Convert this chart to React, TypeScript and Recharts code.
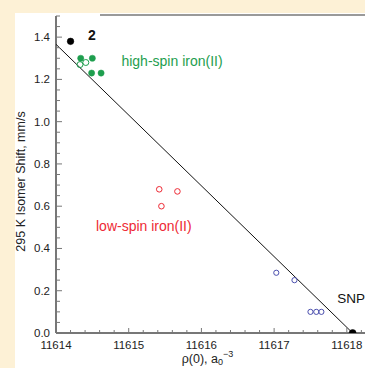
import React from 'react';
import { ScatterChart, Scatter, XAxis, YAxis, ReferenceDot, Label } from 'recharts';

const xMajor = [11614, 11615, 11616, 11617, 11618];
const yMajor = [0, 0.2, 0.4, 0.6, 0.8, 1.0, 1.2, 1.4];

const compound2 = [{ x: 11614.2, y: 1.38 }];
const highSpinFilled = [
  { x: 11614.34, y: 1.3 },
  { x: 11614.5, y: 1.3 },
  { x: 11614.49, y: 1.23 },
  { x: 11614.62, y: 1.23 },
];
const highSpinOpen = [
  { x: 11614.33, y: 1.27 },
  { x: 11614.41, y: 1.28 },
];
const lowSpin = [
  { x: 11615.42, y: 0.68 },
  { x: 11615.45, y: 0.6 },
  { x: 11615.67, y: 0.67 },
];
const blueOpen = [
  { x: 11617.03, y: 0.285 },
  { x: 11617.28, y: 0.25 },
  { x: 11617.5, y: 0.1 },
  { x: 11617.58, y: 0.1 },
  { x: 11617.65, y: 0.1 },
];
const snp = [{ x: 11618.08, y: 0 }];
const fitLine = [
  { x: 11614, y: 1.366 },
  { x: 11618.08, y: 0 },
];

const GREEN = '#1e9e4e';
const RED = '#ee2a35';
const BLUE = '#4b4fae';
const FONT = '"Liberation Sans", Arial, Helvetica, sans-serif';

const xTicks: number[] = [];
for (let i = 0; i <= 21; i++) xTicks.push(+(11614 + i * 0.2).toFixed(2));
const yTicks: number[] = [];
for (let i = 0; i <= 30; i++) yTicks.push(+(i * 0.05).toFixed(2));

const isMajor = (list: number[], v: number) => list.some((m) => Math.abs(m - v) < 1e-6);

const XTick = (props: any) => {
  const { x, y, payload } = props;
  const major = isMajor(xMajor, payload.value);
  return (
    <g>
      <line x1={x} x2={x} y1={y} y2={y - (major ? 5 : 3)} stroke="#777" strokeWidth={1} />
      {major && (
        <text x={x} y={y + 16} textAnchor="middle" fontSize={11.5} fill="#222" fontFamily={FONT}>
          {payload.value}
        </text>
      )}
    </g>
  );
};

const YTick = (props: any) => {
  const { x, y, payload } = props;
  const major = isMajor(yMajor, payload.value);
  return (
    <g>
      <line x1={x} x2={x + (major ? 6 : 4)} y1={y} y2={y} stroke="#777" strokeWidth={1} />
      {major && (
        <text x={x - 6} y={y + 4} textAnchor="end" fontSize={11.5} fill="#222" fontFamily={FONT}>
          {payload.value.toFixed(1)}
        </text>
      )}
    </g>
  );
};

const dot = (fill: string, stroke: string, r: number, sw = 1) => (p: any) => (
  <circle cx={p.cx} cy={p.cy} r={r} fill={fill} stroke={stroke} strokeWidth={sw} />
);

const txt = (value: string, color: string, size: number, bold = false) => (p: any) => {
  const vb = p.viewBox || {};
  const cx = vb.x + (vb.width || 0) / 2;
  const cy = vb.y + (vb.height || 0) / 2;
  return (
    <text x={cx} y={cy + size * 0.36} fill={color} fontSize={size} fontWeight={bold ? 'bold' : 'normal'} fontFamily={FONT} textAnchor="start">
      {value}
    </text>
  );
};

export default function App() {
  return (
    <div style={{ position: 'absolute', left: 0, top: 0, width: 365, height: 368, background: '#fdf1d6', overflow: 'hidden' }}>
      <div style={{ position: 'absolute', left: 15, top: 13, right: 0, bottom: 0, background: '#ffffff' }} />
      <div style={{ position: 'absolute', left: 100, top: 14, right: 0, height: 2, background: '#9a9a9a' }} />
      <div style={{ position: 'absolute', left: 0, top: 0 }}>
        <ScatterChart width={365} height={368} margin={{ top: 16, right: 0, bottom: 0, left: 0 }}>
          <XAxis
            type="number"
            dataKey="x"
            domain={[11614, 11618.25]}
            ticks={xTicks}
            interval={0}
            tickSize={0}
            tickMargin={0}
            tick={<XTick />}
            tickLine={false}
            axisLine={{ stroke: '#777', strokeWidth: 2 }}
            height={35}
            allowDataOverflow
          >
            <Label
              content={(p: any) => {
                const vb = p.viewBox;
                return (
                  <text x={vb.x + vb.width / 2 - 3} y={363} textAnchor="middle" fontSize={12.5} fill="#222" fontFamily={FONT}>
                    ρ(0), a
                    <tspan fontSize={9} dy={2}>0</tspan>
                    <tspan fontSize={9} dy={-8}>−3</tspan>
                  </text>
                );
              }}
            />
          </XAxis>
          <YAxis
            type="number"
            dataKey="y"
            domain={[0, 1.5]}
            ticks={yTicks}
            interval={0}
            tickSize={0}
            tickMargin={0}
            tick={<YTick />}
            tickLine={false}
            axisLine={{ stroke: '#777', strokeWidth: 2 }}
            width={56}
            allowDataOverflow
          >
            <Label
              content={(p: any) => {
                const vb = p.viewBox;
                const cx = 22;
                const cy = vb.y + vb.height / 2 + 7;
                return (
                  <text x={cx} y={cy} transform={`rotate(-90 ${cx} ${cy})`} textAnchor="middle" dominantBaseline="middle" fontSize={12.5} fill="#222" fontFamily={FONT}>
                    295 K Isomer Shift, mm/s
                  </text>
                );
              }}
            />
          </YAxis>
          <Scatter data={fitLine} line={{ stroke: '#111', strokeWidth: 1 }} shape={() => null} isAnimationActive={false} />
          <Scatter data={highSpinOpen} shape={dot('none', GREEN, 3, 1)} isAnimationActive={false} />
          <Scatter data={highSpinFilled} shape={dot(GREEN, GREEN, 3.1, 0.5)} isAnimationActive={false} />
          <Scatter data={lowSpin} shape={dot('none', RED, 2.8, 1)} isAnimationActive={false} />
          <Scatter data={blueOpen} shape={dot('none', BLUE, 2.6, 1)} isAnimationActive={false} />
          <Scatter data={compound2} shape={dot('#000', '#000', 3.3, 0.5)} isAnimationActive={false} />
          <Scatter data={snp} shape={dot('#000', '#000', 3.5, 0.5)} isAnimationActive={false} />
          <ReferenceDot x={11614.44} y={1.41} r={0} ifOverflow="visible" label={{ content: txt('2', '#111', 14, true) }} />
          <ReferenceDot x={11614.9} y={1.287} r={0} ifOverflow="visible" label={{ content: txt('high-spin iron(II)', GREEN, 14) }} />
          <ReferenceDot x={11614.55} y={0.508} r={0} ifOverflow="visible" label={{ content: txt('low-spin iron(II)', RED, 14) }} />
          <ReferenceDot x={11617.87} y={0.166} r={0} ifOverflow="visible" label={{ content: txt('SNP', '#111', 13.5) }} />
        </ScatterChart>
      </div>
    </div>
  );
}
